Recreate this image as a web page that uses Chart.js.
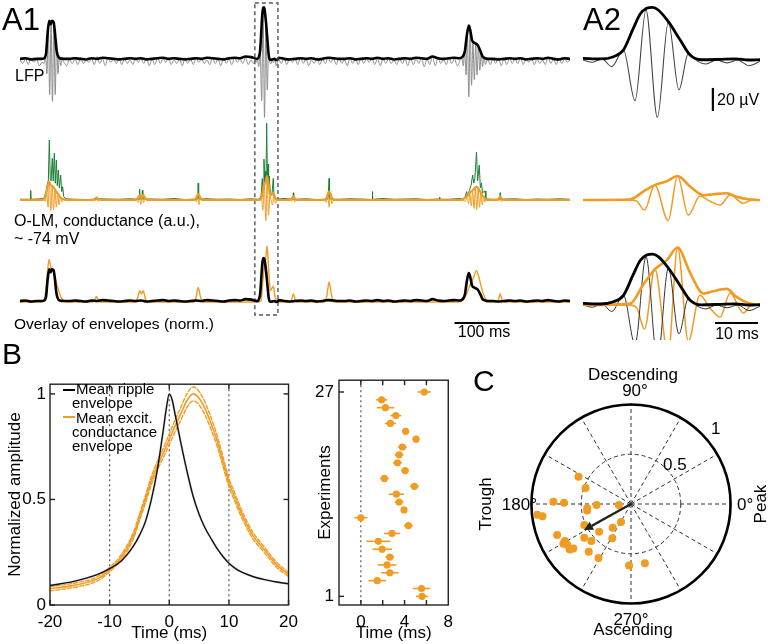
<!DOCTYPE html>
<html><head><meta charset="utf-8">
<script src="https://cdn.jsdelivr.net/npm/chart.js@4/dist/chart.umd.min.js"></script>
<style>
html,body{margin:0;padding:0;background:#fff;}
#wrap{position:relative;width:768px;height:644px;overflow:hidden;font-family:'Liberation Sans',Arial,Helvetica,sans-serif;color:#000;}
canvas{position:absolute;}
.t{position:absolute;white-space:nowrap;line-height:1;z-index:5;}
.sw{position:absolute;height:2px;z-index:5;}
</style></head><body><div id="wrap"></div>
<script>
// ================= DATA =================
// ---- A1 row 1: LFP (µV); gray = raw LFP, black = ripple envelope ----
const lfpNoiseStep = 5;   // ms
const lfpNoise = [0,-3,1,-4,2,-2,1,-5,2,-3,0,-4,2,-3,1,-2,2,-5,1,-3,
 1,-4,2,-3,0,-2,1,-4,3,-3,1,-5,2,-2,1,-3,2,-4,1,-3,
 0,-4,2,-2,1,-3,2,-5,1,-4,2,-3,1,-2,2,-4,0,-3,1,-5,
 2,-3,1,-4,2,-2,1,-3,0,-4,2,-3,1,-5,2,-3,1,-4,2,-2,
 1,-3,2,-4,0,-3,1,-6,2,-4,1,-3,2,-5,1,-3,2,-4,1,-2,
 1,-4,2,-3,1,-5,0,-3,2,-4,1,-3,2,-2,1,-4,2,-3,0,-5,
 2,-3,1,-4,2,-3,1,-2,2,-4,1,-5,2,-3,1,-3,0,-4,2,-3,
 1,-5,2,-4,1,-3,2,-6,1,-4,3,-5,2,-3,1,-4,2,-3,1,-5,
 2,-3,1,-4,0,-3,2,-5,1,-3,2,-4,1,-3,2,-5,1,-4,2,-3,
 1,-3,2,-4,1,-2,2,-4,1,-3,0,-4,2,-3,1,-4,2,-3,1,-2,
 0];
const lfpEnvStep = 10;    // ms
const lfpEnvNoise = [1,1.5,0.5,1,2,1,0.5,1,2,1, 1.5,1,0.5,1.5,1,2,1.5,1,0.5,1, 1.5,1,1.5,0.5,1,1.5,2,1,1.5,1,
 0.5,1,1.5,1,2,1.5,1,0.5,1.5,2, 1.5,3,2.5,1,2,1,1.5,2,1,0.5, 1,1.5,1,1.5,0.5,1,2,1.5,1,1,
 1.5,0.5,1,1.5,1,2,1,1.5,0.5,1, 1.5,1,2,1.5,1,3,1.5,1,1.5,2, 1.5,1,0.5,1.5,1,1.5,1,0.5,1,1.5,
 1,1.5,0.5,1,1.5,1,2,1,0.5,1.5, 1];
const lfpEv1 = [[40,-2],[44,-3],[46.5,3],[49,-12],[51.5,28],[54,-30],[56.5,34],[59,-36],[61.5,33],[64,-30],[66.5,18],[69,-12],[71.5,4],[74,-5],[77,1],[80,-2]];
const lfpEnvEv1 = [[40,1],[45,2],[47.5,6],[50,22],[53,34],[55.5,31],[58,34],[61,33],[63.5,24],[66,10],[68.5,4],[72,1.5],[80,1]];
const lfpEv3 = [[798,-3],[803,3],[806,-5],[808.5,8],[811,-13],[813.5,22],[816,-32],[818.5,28],[821,-22],[823.5,16],[826,-17],[828.5,14],[831,-13],[833.5,12],[836,-9],[838.5,6],[841,-6],[843.5,3],[846,-4],[850,1]];
const lfpEnvEv3 = [[798,1.5],[805,3],[809,8],[812,20],[816,30],[819,25],[822,17],[826,15],[832,13],[837,8],[841,3],[846,1.5],[850,1]];

// ---- A2 (zoomed ripple, local time 0..41 ms) ----
const a2Offset = 427.3;   // ms, start of the A2 window inside A1 (dashed box)
const a2Lfp = [[0,0],[2.2,-2],[4.4,1],[6.7,-5.8],[9.4,8.7],[12.1,-35.4],[14.65,43.5],[17.3,-49.9],[19.85,33.3],[22.3,-26],[24.5,5.8],[26.6,-1],[28.6,-3.5],[31,0],[33.5,-2.5],[36,0],[38.6,-5],[41.2,-1]];
const a2Env = [[0,1.4],[4,0.9],[7.1,2.9],[9.4,8.7],[11.7,27.5],[13.3,40],[14.8,44.9],[16.2,45.8],[17.5,43.5],[19.85,33.3],[22.6,17.4],[24.9,4.3],[27.5,0.2],[31.5,0.5],[35.5,1],[38.5,0],[41.2,0.3]];
const a2Osc = [[0,0],[10.9,0],[12.5,-0.05],[14.3,-0.42],[16.7,0.63],[19.8,-0.86],[22.0,1.0],[24.5,-0.63],[27.2,0.17],[29.5,-0.05],[31.9,-0.21],[34.2,0.21],[37.3,-0.14],[39.2,0],[41.2,0]];
const a2OEnv = [[0,0],[10.9,0.02],[14.0,0.35],[16.7,0.62],[19.5,0.78],[22.0,1.0],[24.9,0.56],[28,0.2],[30.3,0.24],[33.4,0.28],[35.7,0.14],[38.5,0.03],[41.2,0]];

// ---- A1 row 2: conductance (a.u.) ----
const greenStep = 20;
const greenNoise = [0.03,0.05,0.02,0.04,0.06,0.03,0.02,0.05,0.04,0.03,
 0.05,0.02,0.04,0.03,0.06,0.02,0.04,0.05,0.03,0.04,
 0.02,0.05,0.03,0.04,0.06,0.03,0.05,0.02,0.04,0.03,
 0.05,0.04,0.02,0.06,0.03,0.04,0.05,0.02,0.04,0.03,
 0.06,0.02,0.05,0.03,0.04,0.05,0.02,0.04,0.03,0.05,0.03];
const greenEv1 = [[40,0.05],[44,0.1],[47,0.3],[50,0.7],[51.5,0.8],[53.3,2.5],[55,0.9],[56.5,0.8],[58.7,1.74],[60.3,0.8],[62.4,1.95],[64.2,0.7],[66.1,1.67],[67.8,0.6],[69.7,1.25],[71.5,0.5],[74,1.04],[75.8,0.35],[77.6,0.55],[79.5,0.15],[83,0.05]];
const greenEv2 = [[432,0.03],[436,0.05],[438.5,0.2],[440.5,0.9],[442,0.4],[443.6,1.7],[445,0.7],[446.3,1.2],[447.2,0.8],[448.5,3.2],[449.8,0.9],[451,1.5],[452,0.6],[453.2,1.0],[455,0.3],[458,0.2],[460.5,0.9],[462,0.1],[466,0.03]];
const greenEv3 = [[805,0.03],[809,0.1],[812,0.35],[814,0.15],[817,0.4],[820,0.6],[823,1.04],[825,0.7],[827,0.9],[830,2.0],[832,0.8],[835,1.46],[837,0.5],[839,0.7],[841,0.3],[845.5,0.38],[847,0.08],[850,0.04]];
const greenSpikes = [
 [[18.8,0.03],[19.5,0.4],[20.2,0.03]],
 [[137.3,0.03],[138,0.12],[138.7,0.03]],
 [[216.7,0.03],[217.5,0.45],[218.3,0.05]],
 [[221.7,0.05],[222.5,0.4],[223.3,0.04]],
 [[323.2,0.04],[324,0.7],[324.8,0.04]],
 [[496.3,0.03],[497,0.3],[497.7,0.03]],
 [[561.2,0.04],[562,0.9],[562.8,0.04]],
 [[640.3,0.03],[641,0.35],[641.7,0.03]],
 [[762.3,0.03],[763,0.12],[763.7,0.03]],
 [[872.3,0.03],[873,0.3],[873.7,0.03]]];
const orangeEnvA1 = [[0,0],[38,0],[44,0.05],[48,0.3],[50.5,0.6],[53,0.76],[56,0.62],[59,0.58],[62,0.5],[65,0.38],[69,0.25],[73,0.12],[78,0.04],[84,0],
 [132,0],[136,0.04],[139,0.1],[142,0.04],[146,0],
 [210,0],[214,0.08],[218,0.2],[221,0.14],[224,0.2],[228,0.06],[232,0],
 [316,0],[320,0.08],[324,0.26],[328,0.1],[332,0],
 [490,0],[494,0.05],[497,0.15],[500,0.05],[504,0],
 [554,0],[558,0.12],[562,0.36],[566,0.15],[570,0],
 [798,0],[806,0.04],[812,0.15],[818,0.3],[824,0.42],[830,0.56],[835,0.42],[840,0.22],[845,0.08],[850,0],
 [866,0],[870,0.05],[873,0.15],[876,0.05],[880,0],[1000,0]];
const orangeOscA1 = [[0,0],[42,0],[46,-0.05],[48.5,0.3],[51,-0.3],[53.5,0.76],[56,-0.45],[58.5,0.58],[61,-0.4],[63.5,0.45],[66,-0.3],[68.5,0.28],[71,-0.2],[73.5,0.12],[76,-0.08],[78.5,0.04],[82,0],
 [134,0],[136.5,-0.04],[139,0.08],[141.5,-0.05],[144,0],
 [212,0],[214.5,-0.1],[217,0.16],[219.5,-0.18],[222,0.18],[224.5,-0.12],[227,0.06],[230,0],
 [318,0],[320.5,-0.08],[323,0.22],[325.5,-0.2],[328,0.1],[331,0],
 [492,0],[494.5,-0.05],[497,0.12],[499.5,-0.08],[502,0],
 [554,0],[557,-0.1],[559.5,0.2],[562,-0.3],[564.5,0.32],[567,-0.15],[570,0],
 [800,0],[810,-0.05],[813,0.1],[815.5,-0.15],[818,0.25],[820.5,-0.25],[823,0.35],[825.5,-0.35],[828,0.5],[830.5,-0.4],[833,0.45],[835.5,-0.3],[838,0.3],[840.5,-0.2],[843,0.12],[845.5,-0.08],[848,0.04],[852,0],
 [868,0],[870.5,-0.05],[873,0.12],[875.5,-0.08],[878,0],[1000,0]];
// normalisation used for the overlay rows
const rippleNormA1 = 52, rippleNormA2 = 45;   // µV
const condNormA1 = 1.12, condNormA2 = 1.15;

// ---- B left: mean envelopes ----
const bTime   = [-20,-16,-12,-10,-8,-6,-5,-4,-3,-2,-1,-0.5,0,0.5,1,2,3,4,5,6,7,8,9,10,11,12,14,16,18,20];
const bRipple = [0.092,0.112,0.145,0.172,0.21,0.28,0.33,0.395,0.5,0.64,0.83,0.93,1.0,0.97,0.9,0.76,0.63,0.515,0.43,0.365,0.315,0.268,0.23,0.198,0.175,0.158,0.135,0.12,0.109,0.1];
const bCond   = [0.077,0.093,0.125,0.168,0.228,0.33,0.415,0.5,0.59,0.66,0.72,0.752,0.785,0.818,0.85,0.91,0.97,1.0,0.98,0.93,0.86,0.78,0.68,0.58,0.51,0.44,0.33,0.26,0.19,0.145];
const bCondSem= [0.01,0.01,0.01,0.01,0.012,0.015,0.015,0.018,0.02,0.02,0.022,0.024,0.025,0.027,0.028,0.03,0.032,0.033,0.032,0.03,0.028,0.025,0.022,0.02,0.019,0.018,0.015,0.013,0.012,0.01];
const bXTicks = [-20,-10,0,10,20];
const bYTicks = [0,0.5,1];
// ---- B right: peak lag per experiment (1..27) ----
const expTime = [5.6,5.55,1.5,2.65,2.4,2.65,1.95,1.6,2.85,4.35,0.0,3.95,3.5,3.25,4.9,2.15,4.05,3.35,3.5,3.8,5.05,4.1,2.7,3.2,2.25,1.9,5.8];
const expErr  = [0.55,0.8,0.8,0.8,0.85,0.4,0.9,1.1,0.75,0.4,0.6,0.25,0.4,0.7,0.4,0.4,0.35,0.4,0.4,0.4,0.3,0.3,0.5,0.5,0.8,0.5,0.6];
const expXTicks = [-2,0,2,4,6,8];
const expXLabels = ['0','4','8'];
const expYTicks = [1,27];
// ---- C: phase (deg) and vector length ----
const phaseDeg = [152.5,160.5,178.3,178.9,185.5,188.4,181.6,184.5,186.5,187.9,204.1,202.7,209.3,210.4,212.5,216.6,217.6,215.9,223.1,228.5,239.0,221.0,232.4,241.3,241.0,268.2,283.2];
const phaseR   = [0.595,0.484,0.78,0.673,0.442,0.445,0.346,0.123,0.948,0.898,0.514,0.804,0.761,0.788,0.76,0.766,0.731,0.579,0.545,0.64,0.634,0.424,0.302,0.391,0.207,0.618,0.612];
const meanDeg = 209, meanR = 0.54;
const polarRings = [0.5, 1];
const polarSpokes = [0,30,60,90,120,150,180,210,240,270,300,330];

// ================= HELPERS =================
Chart.defaults.font.family = "'Liberation Sans', Arial, Helvetica, sans-serif";
Chart.defaults.color = '#000';
const ORANGE = '#F09B22', GREEN = '#1C7E36';
const wrap = document.getElementById('wrap');
const series = (arr, step) => arr.map((v,i)=>[i*step, v]);
const shift = (arr, dt) => arr.map(([t,v])=>[t+dt, v]);
const scaleV = (arr, k) => arr.map(([t,v])=>[t, v*k]);
function merge(base, events){
  let out = base.filter(([t]) => !events.some(e => t >= e[0][0] && t <= e[e.length-1][0]));
  events.forEach(e => out = out.concat(e));
  out.sort((a,b)=>a[0]-b[0]);
  return out;
}
const pts = arr => arr.map(([x,y])=>({x,y}));
function ds(arr, color, width, smooth=true, extra={}){
  return Object.assign({data: pts(arr), borderColor: color, borderWidth: width, pointRadius: 0, fill: false,
    cubicInterpolationMode: smooth ? 'monotone' : 'default', tension: 0, borderJoinStyle: 'round', borderCapStyle: 'round'}, extra);
}
function mkCanvas(left, top, w, h){
  const c = document.createElement('canvas'); c.width = w; c.height = h;
  c.style.left = left+'px'; c.style.top = top+'px'; c.style.width = w+'px'; c.style.height = h+'px';
  wrap.appendChild(c); return c;
}
function trace(box, xr, basePx, pxPerUnit, datasets, plugin){
  const c = mkCanvas(...box);
  return new Chart(c, {type:'line', data:{datasets},
    options:{responsive:false, animation:false, events:[], layout:{padding:0},
      plugins:{legend:{display:false}, tooltip:{enabled:false}},
      scales:{x:{type:'linear', display:false, min:xr[0], max:xr[1]},
              y:{type:'linear', display:false, min:-(box[3]-basePx)/pxPerUnit, max:basePx/pxPerUnit}}},
    plugins: plugin ? [plugin] : []});
}
function txt(s, x, base, size, align='left', weight='normal'){
  const d = document.createElement('div'); d.className='t'; d.textContent = s;
  d.style.fontSize = size+'px'; d.style.fontWeight = weight;
  d.style.top = (base - 0.8465*size)+'px';
  if(align==='left') d.style.left = x+'px';
  else if(align==='center'){ d.style.left = x+'px'; d.style.transform='translateX(-50%)'; }
  else d.style.right = (768-x)+'px';
  wrap.appendChild(d);
}
function vtxt(s, cx, cy, size){
  const d = document.createElement('div'); d.className='t'; d.textContent = s;
  d.style.fontSize = size+'px'; d.style.left = cx+'px'; d.style.top = cy+'px';
  d.style.transform = 'translate(-50%,-50%) rotate(-90deg)';
  wrap.appendChild(d);
}
function line(ctx, x1,y1,x2,y2){ ctx.beginPath(); ctx.moveTo(x1,y1); ctx.lineTo(x2,y2); ctx.stroke(); }

// ================= A1 =================
const lfpA1 = merge(series(lfpNoise, lfpNoiseStep), [lfpEv1, shift(a2Lfp, a2Offset), lfpEv3]);
const envA1 = merge(series(lfpEnvNoise, lfpEnvStep), [lfpEnvEv1, shift(a2Env, a2Offset), lfpEnvEv3]);
const greenA1 = merge(series(greenNoise, greenStep), [greenEv1, greenEv2, greenEv3, ...greenSpikes]);
const oEnvA1 = merge(orangeEnvA1, [shift(a2OEnv, a2Offset)]);
const oOscA1 = merge(orangeOscA1, [shift(a2Osc, a2Offset)]);

const A1BOX = [20, 0, 550, 340], A1X = [0, 1000];
// row 1
trace(A1BOX, A1X, 60, 1.15, [ds(envA1, '#000', 2.6), ds(lfpA1, '#8c8c8c', 1)], {
  id:'box', afterDraw(ch){
    const {ctx, scales:{x}, chartArea:a} = ch;
    const x1 = x.getPixelForValue(a2Offset - 0.3), x2 = x.getPixelForValue(a2Offset + 41.7);
    ctx.save(); ctx.strokeStyle = '#555'; ctx.lineWidth = 1.4; ctx.setLineDash([4,3]);
    ctx.strokeRect(x1, a.top + 3, x2 - x1, a.bottom - a.top - 28); ctx.restore();
  }});
// row 2
trace(A1BOX, A1X, 200, 24, [ds(oEnvA1, ORANGE, 2.2), ds(oOscA1, ORANGE, 1), ds(greenA1, GREEN, 1, false)]);
// row 3
trace(A1BOX, A1X, 302, 50, [ds(scaleV(envA1, 1/rippleNormA1), '#000', 2.6), ds(scaleV(oEnvA1, condNormA1), ORANGE, 1.4)], {
  id:'bar100', afterDraw(ch){
    const {ctx, scales:{x,y}} = ch; ctx.save(); ctx.strokeStyle='#000'; ctx.lineWidth=2;
    const yy = y.getPixelForValue(-0.42);
    line(ctx, x.getPixelForValue(790), yy, x.getPixelForValue(890), yy); ctx.restore();
  }});

// ================= A2 =================
const A2BOX = [583, 0, 177, 340], A2X = [0, 41.16];
trace(A2BOX, A2X, 60, 1.15, [ds(a2Env, '#000', 2.8), ds(a2Lfp, '#444', 1.1)], {
  id:'bar20', afterDraw(ch){
    const {ctx, scales:{x,y}} = ch; ctx.save(); ctx.strokeStyle='#000'; ctx.lineWidth=2.2;
    const xx = x.getPixelForValue(30.2);
    line(ctx, xx, y.getPixelForValue(-24.3), xx, y.getPixelForValue(-44.3)); ctx.restore();
  }});
trace(A2BOX, A2X, 200, 24, [ds(a2OEnv, ORANGE, 2.6), ds(a2Osc, ORANGE, 1.5)]);
trace(A2BOX, A2X, 305, 50, [
  ds(scaleV(a2Env, 1/rippleNormA2), '#000', 2.8),
  ds(scaleV(a2OEnv, condNormA2), ORANGE, 2.6),
  ds(scaleV(a2Lfp, 1/rippleNormA2), '#333', 1),
  ds(scaleV(a2Osc, condNormA2), ORANGE, 1.5)], {
  id:'bar10', afterDraw(ch){
    const {ctx, scales:{x,y}} = ch; ctx.save(); ctx.strokeStyle='#000'; ctx.lineWidth=2;
    const yy = y.getPixelForValue(-0.36);
    line(ctx, x.getPixelForValue(30.7), yy, x.getPixelForValue(40.7), yy); ctx.restore();
  }});

// ================= B =================
function framePlugin(id, o){
  return {id,
    beforeDatasetsDraw(ch){
      const {ctx, chartArea:a, scales:{x,y}} = ch; ctx.save();
      ctx.strokeStyle = '#555'; ctx.lineWidth = 1.2; ctx.setLineDash([2,3]);
      (o.vlines||[]).forEach(v => { const px = x.getPixelForValue(v); line(ctx, px, a.top, px, a.bottom); });
      ctx.setLineDash([]);
      if (o.err){
        ctx.strokeStyle = ORANGE; ctx.lineWidth = 1.6;
        o.err.xs.forEach((xv,i) => { const py = y.getPixelForValue(o.err.ys[i]);
          line(ctx, x.getPixelForValue(xv - o.err.es[i]), py, x.getPixelForValue(xv + o.err.es[i]), py); });
      }
      ctx.restore();
    },
    afterDraw(ch){
      const {ctx, chartArea:a, scales:{x,y}} = ch; ctx.save();
      ctx.strokeStyle = '#222'; ctx.lineWidth = 1.4;
      ctx.strokeRect(a.left, a.top, a.right - a.left, a.bottom - a.top);
      const L = 5;
      (o.bottom||[]).forEach(v => { const p = x.getPixelForValue(v); line(ctx, p, a.bottom, p, a.bottom - L); });
      (o.top||[]).forEach(v => { const p = x.getPixelForValue(v); line(ctx, p, a.top, p, a.top + L); });
      (o.left||[]).forEach(v => { const p = y.getPixelForValue(v); line(ctx, a.left, p, a.left + L, p); });
      (o.right||[]).forEach(v => { const p = y.getPixelForValue(v); line(ctx, a.right, p, a.right - L, p); });
      ctx.restore();
    }};
}
const axisFont = {size: 17};
// B left
{
  const c = mkCanvas(0, 370, 305, 274);
  const up = bCond.map((v,i)=>[bTime[i], v + bCondSem[i]]);
  const lo = bCond.map((v,i)=>[bTime[i], v - bCondSem[i]]);
  new Chart(c, {type:'line', data:{datasets:[
      ds(bTime.map((t,i)=>[t, bRipple[i]]), '#111', 1.4),
      ds(bTime.map((t,i)=>[t, bCond[i]]), ORANGE, 1.6),
      ds(up, ORANGE, 1.4, true, {borderDash:[4,2]}),
      ds(lo, ORANGE, 1.4, true, {borderDash:[4,2]}),
      ds(bTime.map((t,i)=>[t, bRipple[i]]), 'rgba(150,150,150,0.3)', 2.4)]},
    options:{responsive:false, animation:false, events:[],
      layout:{padding:{top:7, right:10, left:0, bottom:0}},
      plugins:{legend:{display:false}, tooltip:{enabled:false}},
      scales:{
        x:{type:'linear', min:-20, max:20, afterBuildTicks: s => { s.ticks = bXTicks.map(v=>({value:v})); },
           afterFit: s => { s.height = 39; },
           ticks:{font:axisFont, padding:7, maxRotation:0, autoSkip:false, callback: v => String(v)},
           grid:{display:false, drawTicks:false}, border:{display:false},
           title:{display:true, text:'Time (ms)', font:axisFont, padding:{top:0,bottom:0}}},
        y:{type:'linear', min:0, max:1.046, afterBuildTicks: s => { s.ticks = bYTicks.map(v=>({value:v})); },
           afterFit: s => { s.width = 50; },
           ticks:{font:axisFont, padding:4, autoSkip:false, callback: v => String(v)},
           grid:{display:false, drawTicks:false}, border:{display:false},
           title:{display:true, text:'Normalized amplitude', font:axisFont, padding:{top:5,bottom:0}}}}},
    plugins:[framePlugin('fb', {vlines:[-10,0,10], bottom:bXTicks, top:[-10,0,10], left:bYTicks, right:[0.5,1]})]});
}
// B right
{
  const c = mkCanvas(300, 365, 160, 279);
  const ys = expTime.map((_,i)=>i+1);
  new Chart(c, {type:'scatter', data:{datasets:[{data: expTime.map((t,i)=>({x:t, y:ys[i]})),
      backgroundColor: ORANGE, borderWidth:0, pointRadius:3.6}]},
    options:{responsive:false, animation:false, events:[],
      layout:{padding:{top:10, right:11, left:0, bottom:0}},
      plugins:{legend:{display:false}, tooltip:{enabled:false}},
      scales:{
        x:{type:'linear', min:-2, max:8, afterBuildTicks: s => { s.ticks = expXTicks.map(v=>({value:v})); },
           afterFit: s => { s.height = 39; },
           ticks:{font:axisFont, padding:7, maxRotation:0, autoSkip:false,
                  callback: v => expXLabels.includes(String(v)) ? String(v) : ''},
           grid:{display:false, drawTicks:false}, border:{display:false},
           title:{display:true, text:'Time (ms)', font:axisFont, padding:{top:0,bottom:0}}},
        y:{type:'linear', min:-0.1, max:28.5, afterBuildTicks: s => { s.ticks = expYTicks.map(v=>({value:v})); },
           afterFit: s => { s.width = 39; },
           ticks:{font:axisFont, padding:5, autoSkip:false, callback: v => String(v)},
           grid:{display:false, drawTicks:false}, border:{display:false},
           title:{display:true, text:'Experiments', font:axisFont, padding:{top:15,bottom:0}}}}},
    plugins:[framePlugin('fr', {vlines:[0], err:{xs:expTime, es:expErr, ys}, bottom:[0,2,4,6], top:[0,2,4,6], left:expYTicks})]});
}

// ================= C =================
{
  const c = mkCanvas(511, 384, 240, 240);
  const rad = d => d*Math.PI/180;
  new Chart(c, {type:'scatter', data:{datasets:[{
      data: phaseDeg.map((d,i)=>({x: phaseR[i]*Math.cos(rad(d)), y: phaseR[i]*Math.sin(rad(d))})),
      backgroundColor: ORANGE, borderWidth:0, pointRadius:4}]},
    options:{responsive:false, animation:false, events:[], layout:{padding:0},
      plugins:{legend:{display:false}, tooltip:{enabled:false}},
      scales:{x:{type:'linear', display:false, min:-1.165, max:1.165},
              y:{type:'linear', display:false, min:-1.165, max:1.165}}},
    plugins:[{id:'polar',
      beforeDatasetsDraw(ch){
        const {ctx, scales:{x,y}} = ch; const cx = x.getPixelForValue(0), cy = y.getPixelForValue(0);
        const R = x.getPixelForValue(1) - cx;
        ctx.save(); ctx.strokeStyle = '#333'; ctx.lineWidth = 1; ctx.setLineDash([4,3]);
        polarSpokes.forEach(d => line(ctx, cx, cy, cx + R*Math.cos(rad(d)), cy - R*Math.sin(rad(d))));
        polarRings.forEach(r => { if (r < 1){ ctx.beginPath(); ctx.arc(cx, cy, R*r, 0, 2*Math.PI); ctx.stroke(); }});
        ctx.setLineDash([]); ctx.strokeStyle = '#000'; ctx.lineWidth = 2.6;
        ctx.beginPath(); ctx.arc(cx, cy, R, 0, 2*Math.PI); ctx.stroke();
        ctx.restore();
      },
      afterDatasetsDraw(ch){
        const {ctx, scales:{x,y}} = ch;
        const x0 = x.getPixelForValue(0), y0 = y.getPixelForValue(0);
        const x1 = x.getPixelForValue(meanR*Math.cos(rad(meanDeg))), y1 = y.getPixelForValue(meanR*Math.sin(rad(meanDeg)));
        const ang = Math.atan2(y1 - y0, x1 - x0), hl = 9, hw = 4.5;
        ctx.save(); ctx.strokeStyle = '#222'; ctx.fillStyle = '#222'; ctx.lineWidth = 2.4;
        const bx = x1 - hl*Math.cos(ang), by = y1 - hl*Math.sin(ang);
        line(ctx, x0, y0, bx, by);
        ctx.beginPath(); ctx.moveTo(x1, y1);
        ctx.lineTo(bx + hw*Math.sin(ang), by - hw*Math.cos(ang));
        ctx.lineTo(bx - hw*Math.sin(ang), by + hw*Math.cos(ang)); ctx.closePath(); ctx.fill();
        ctx.restore();
      }}]});
}

// ================= TEXT =================
txt('A1', 2, 30, 31); txt('A2', 583, 30, 31); txt('B', 2, 364, 30); txt('C', 473, 391, 30);
txt('LFP', 15, 82, 16);
txt('O-LM, conductance (a.u.),', 14, 227, 16);
txt('~ -74 mV', 14, 245, 16);
txt('Overlay of envelopes (norm.)', 14, 329, 15.5);
txt('100 ms', 484, 338, 16, 'center');
txt('20 µV', 717, 106, 16);
txt('10 ms', 737, 340, 16, 'center');
// B legend
const sw1 = document.createElement('div'); sw1.className='sw'; sw1.style.cssText += 'left:63px;top:389px;width:12px;background:#000;'; wrap.appendChild(sw1);
const sw2 = document.createElement('div'); sw2.className='sw'; sw2.style.cssText += 'left:63px;top:416px;width:12px;background:'+ORANGE+';'; wrap.appendChild(sw2);
txt('Mean ripple', 76, 394, 15); txt('envelope', 72, 408, 15);
txt('Mean excit.', 76, 423, 15); txt('conductance', 72, 437, 15); txt('envelope', 72, 451, 15);
// C labels
txt('Descending', 633, 380, 17, 'center'); txt('90°', 635, 396, 17, 'center');
txt('270°', 631, 625, 17, 'center'); txt('Ascending', 633, 635, 17, 'center');
txt('180°', 537, 510, 17, 'right'); txt('0°', 737, 510, 17);
vtxt('Trough', 485, 504, 17); vtxt('Peak', 760, 504, 17);
txt('1', 711, 434, 17); txt('0.5', 663, 470, 17);
</script></body></html>
